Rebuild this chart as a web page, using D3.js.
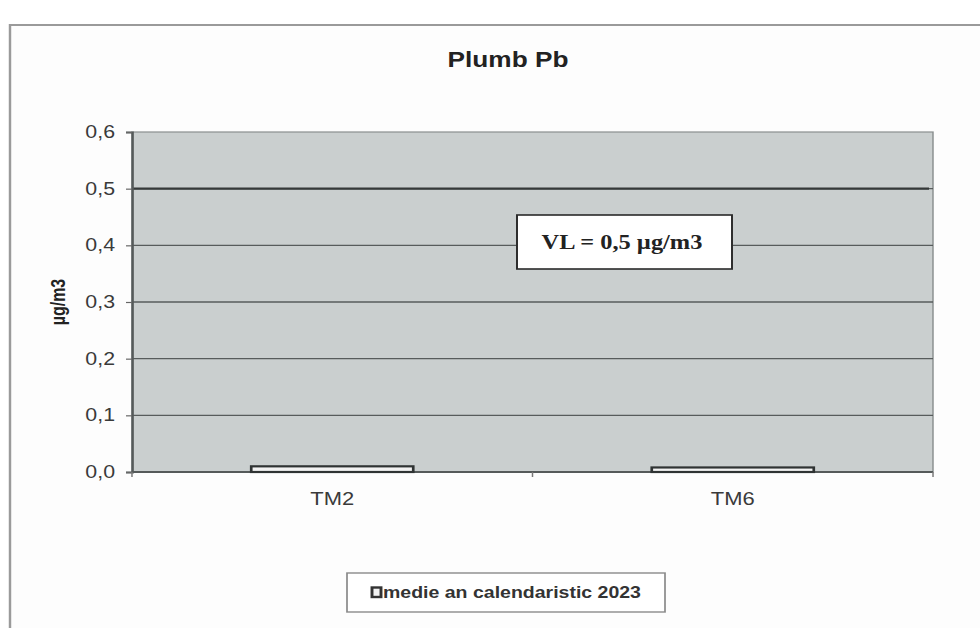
<!DOCTYPE html>
<html>
<head>
<meta charset="utf-8">
<script src="https://cdn.jsdelivr.net/npm/d3@7"></script>
<style>
  html, body { margin: 0; padding: 0; background: #ffffff; }
  svg { display: block; }
</style>
</head>
<body>
<div id="chart"></div>
<script>
// ---- data ----
const chartTitle = "Plumb Pb";
const categories = ["TM2", "TM6"];
const values = [0.010, 0.008];
const seriesName = "medie an calendaristic 2023";
const yTicks = [0, 0.1, 0.2, 0.3, 0.4, 0.5, 0.6];
const yLabel = "µg/m3";
const limitValue = 0.5;
const limitLabel = "VL = 0,5 µg/m3";

// ---- layout ----
const W = 980, H = 628;
const S = 1.22;               // horizontal stretch of the original picture
const VW = W / S;
const sx = px => px / S;

const svg = d3.select("#chart").append("svg")
  .attr("width", W).attr("height", H)
  .attr("viewBox", `0 0 ${VW} ${H}`)
  .attr("preserveAspectRatio", "none");

svg.append("rect").attr("x", 0).attr("y", 0).attr("width", VW).attr("height", H).attr("fill", "#ffffff");

// outer chart border
svg.append("rect")
  .attr("x", sx(10)).attr("y", 25)
  .attr("width", VW + 20).attr("height", H + 20)
  .attr("fill", "#fdfdfd").attr("stroke", "#9a9a9a").attr("stroke-width", 2);

const plot = { left: sx(132), right: sx(933), top: 132, bottom: 472 };

const x = d3.scaleBand().domain(categories)
  .range([plot.left, plot.right])
  .paddingInner(0.5955).paddingOuter(0.2977);
const y = d3.scaleLinear().domain([0, 0.6]).range([plot.bottom, plot.top]);

// plot background
svg.append("rect")
  .attr("x", plot.left).attr("y", plot.top)
  .attr("width", plot.right - plot.left).attr("height", plot.bottom - plot.top)
  .attr("fill", "#cacfcf").attr("stroke", "#8a8f8f").attr("stroke-width", 1.2);

// gridlines
svg.append("g").selectAll("line")
  .data(yTicks.filter(d => d > 0 && d < 0.6))
  .join("line")
  .attr("x1", plot.left).attr("x2", plot.right)
  .attr("y1", d => y(d)).attr("y2", d => y(d))
  .attr("stroke", "#575c5c").attr("stroke-width", 1.3);

// limit line
svg.append("line")
  .attr("x1", plot.left).attr("x2", plot.right - sx(4))
  .attr("y1", y(limitValue)).attr("y2", y(limitValue))
  .attr("stroke", "#353939").attr("stroke-width", 2.2);

// y axis
const yAxis = d3.axisLeft(y)
  .tickValues(yTicks)
  .tickFormat(d => d3.format(".1f")(d).replace(".", ","))
  .tickSize(sx(6)).tickPadding(sx(11));
const gy = svg.append("g").attr("transform", `translate(${plot.left},0)`).call(yAxis);
gy.select(".domain").attr("stroke", "#555a5a").attr("stroke-width", 2);
gy.selectAll(".tick line").attr("stroke", "#666").attr("stroke-width", 1.2);
gy.selectAll(".tick text")
  .attr("font-family", "Liberation Sans, Arial, sans-serif")
  .attr("font-size", 17.5).attr("fill", "#3a3a3a");

// x axis line
svg.append("line")
  .attr("x1", plot.left).attr("x2", plot.right)
  .attr("y1", plot.bottom).attr("y2", plot.bottom)
  .attr("stroke", "#555a5a").attr("stroke-width", 1.8);

// category boundary ticks
const gap = (x.step() - x.bandwidth()) / 2;
const bounds = categories.map(c => x(c) - gap).concat([x(categories[categories.length - 1]) + x.bandwidth() + gap]);
svg.append("g").selectAll("line").data(bounds).join("line")
  .attr("x1", d => d).attr("x2", d => d)
  .attr("y1", plot.bottom).attr("y2", plot.bottom + 5)
  .attr("stroke", "#777").attr("stroke-width", 1.2);

// category labels
svg.append("g").selectAll("text").data(categories).join("text")
  .attr("x", d => x(d) + x.bandwidth() / 2)
  .attr("y", 505)
  .attr("text-anchor", "middle")
  .attr("font-family", "Liberation Sans, Arial, sans-serif")
  .attr("font-size", 18).attr("fill", "#3a3a3a")
  .text(d => d);

// bars
svg.append("g").selectAll("rect").data(values).join("rect")
  .attr("x", (d, i) => x(categories[i]))
  .attr("y", d => y(d))
  .attr("width", x.bandwidth())
  .attr("height", d => y(0) - y(d))
  .attr("fill", "#f2f2f2").attr("stroke", "#2f3333").attr("stroke-width", 2.2);

// title
svg.append("text")
  .attr("x", sx(508)).attr("y", 67)
  .attr("text-anchor", "middle")
  .attr("font-family", "Liberation Sans, Arial, sans-serif")
  .attr("font-weight", "bold").attr("font-size", 21.5).attr("fill", "#222")
  .text(chartTitle);

// y label
svg.append("text")
  .attr("transform", `translate(${sx(65)},${(plot.top + plot.bottom) / 2}) rotate(-90)`)
  .attr("text-anchor", "middle")
  .attr("font-family", "Liberation Sans, Arial, sans-serif")
  .attr("font-weight", "bold").attr("font-size", 16).attr("fill", "#222")
  .text(yLabel);

// VL annotation box
svg.append("rect")
  .attr("x", sx(517)).attr("y", 215)
  .attr("width", sx(732 - 517)).attr("height", 54)
  .attr("fill", "#ffffff").attr("stroke", "#2a2a2a").attr("stroke-width", 1.6);
svg.append("text")
  .attr("x", sx(622)).attr("y", 249)
  .attr("text-anchor", "middle")
  .attr("font-family", "Liberation Serif, Times New Roman, serif")
  .attr("font-weight", "bold").attr("font-size", 20).attr("fill", "#222")
  .text(limitLabel);

// legend
svg.append("rect")
  .attr("x", sx(347)).attr("y", 573)
  .attr("width", sx(665 - 347)).attr("height", 39)
  .attr("fill", "#ffffff").attr("stroke", "#8a8a8a").attr("stroke-width", 1.4);
svg.append("rect")
  .attr("x", sx(372)).attr("y", 587.5)
  .attr("width", sx(9)).attr("height", 9.5)
  .attr("fill", "#f2f2f2").attr("stroke", "#333").attr("stroke-width", 2.4);
svg.append("text")
  .attr("x", sx(383)).attr("y", 598)
  .attr("font-family", "Liberation Sans, Arial, sans-serif")
  .attr("font-weight", "bold").attr("font-size", 16).attr("fill", "#333")
  .text(seriesName);
</script>
</body>
</html>
